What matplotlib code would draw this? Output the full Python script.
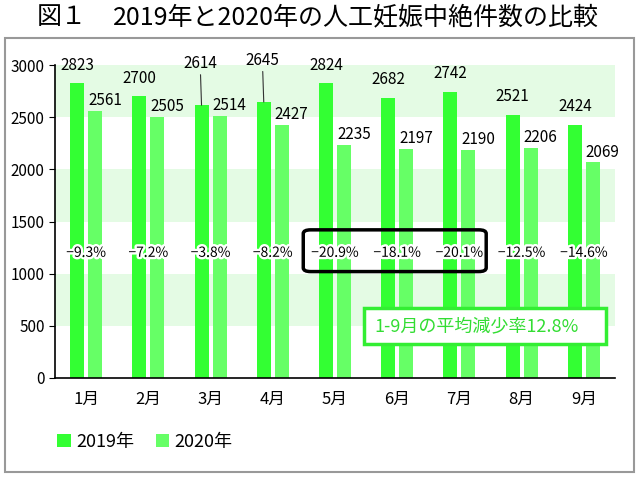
import numpy as np
import matplotlib.pyplot as plt
from matplotlib.patches import Rectangle, FancyBboxPatch
import matplotlib.patheffects as pe

plt.rcParams['font.family'] = ['Noto Sans CJK JP', 'DejaVu Sans']

months = ['1月', '2月', '3月', '4月', '5月', '6月', '7月', '8月', '9月']
y2019 = [2823, 2700, 2614, 2645, 2824, 2682, 2742, 2521, 2424]
y2020 = [2561, 2505, 2514, 2427, 2235, 2197, 2190, 2206, 2069]
change = ['-9.3%', '-7.2%', '-3.8%', '-8.2%', '-20.9%', '-18.1%', '-20.1%', '-12.5%', '-14.6%']
avg_text = '1-9月の平均減少率12.8%'

c2019 = '#33ff33'
c2020 = '#66ff66'
band = '#e4fbe4'

fig = plt.figure(figsize=(6.39, 4.78), dpi=100)
ax = fig.add_axes([55 / 639, 1 - 378 / 478, 560 / 639, 313 / 478])

# outer frame
fig.patches.append(Rectangle((5 / 639, 1 - 472 / 478), 629 / 639, 434 / 478,
                             transform=fig.transFigure, fill=False,
                             edgecolor='#999999', lw=1.5))

fig.text(37 / 639, 1 - 17 / 478, '図１', ha='left', va='center', fontsize=18)
fig.text(113 / 639, 1 - 17 / 478, '2019年と2020年の人工妊娠中絶件数の比較',
         ha='left', va='center', fontsize=18)

# background bands
for lo in (500, 1500, 2500):
    ax.axhspan(lo, lo + 500, color=band, zorder=0, lw=0)

x = np.arange(len(months))
w = 0.225
gap = 0.065
x1 = x - gap / 2 - w / 2
x2 = x + gap / 2 + w / 2
ax.bar(x1, y2019, width=w, color=c2019, zorder=2, label='2019年')
ax.bar(x2, y2020, width=w, color=c2020, zorder=2, label='2020年')

# value labels
for i in range(len(months)):
    if i in (2, 3):
        ax.annotate(str(y2019[i]), xy=(x1[i], y2019[i]), xytext=(-1, 24),
                    textcoords='offset points', ha='center', va='bottom',
                    fontsize=11, arrowprops=dict(arrowstyle='-', lw=0.8, color='#333333',
                                                 shrinkA=0, shrinkB=0))
    else:
        ax.annotate(str(y2019[i]), xy=(x1[i], y2019[i]), xytext=(0, 7),
                    textcoords='offset points', ha='center', va='bottom', fontsize=11)
    ax.annotate(str(y2020[i]), xy=(x2[i] - w / 2, y2020[i]), xytext=(0, 1),
                textcoords='offset points', ha='left', va='bottom', fontsize=11)
    ax.text(x[i], 1200, change[i].replace('-', '\u2212'), ha='center', va='center',
            fontsize=10, zorder=4,
            path_effects=[pe.withStroke(linewidth=3.5, foreground='white')])

# highlight box for 5-7月
ax.add_patch(FancyBboxPatch((3.49, 1020), 2.94, 400,
                            boxstyle='round,pad=0,rounding_size=0.12',
                            mutation_aspect=300, fill=False, edgecolor='black',
                            lw=2.5, zorder=5))

# average box
ax.add_patch(Rectangle((4.47, 326), 3.89, 345, facecolor='white',
                       edgecolor='#33ee33', lw=2.5, zorder=5))
ax.text(4.63, 495, avg_text, ha='left', va='center', fontsize=13,
        color='#33dd33', zorder=6)

ax.set_xlim(-0.5, 8.5)
ax.set_ylim(0, 3000)
ax.set_xticks(x)
ax.set_xticklabels(months, fontsize=12)
ax.tick_params(axis='x', length=0, pad=9)
ax.set_yticks(range(0, 3001, 500))
ax.tick_params(axis='y', labelsize=11, length=4, direction='out')
for s in ('top', 'right'):
    ax.spines[s].set_visible(False)
ax.spines['left'].set_linewidth(1.2)
ax.spines['bottom'].set_linewidth(1.2)

ax.legend(loc='upper left', bbox_to_anchor=(48 / 639, 1 - 424 / 478),
          bbox_transform=fig.transFigure, ncol=2, frameon=False, fontsize=13,
          handlelength=0.75, handleheight=0.75, handletextpad=0.3, columnspacing=1.2,
          borderpad=0.0)

fig.savefig('out.png', dpi=100)
